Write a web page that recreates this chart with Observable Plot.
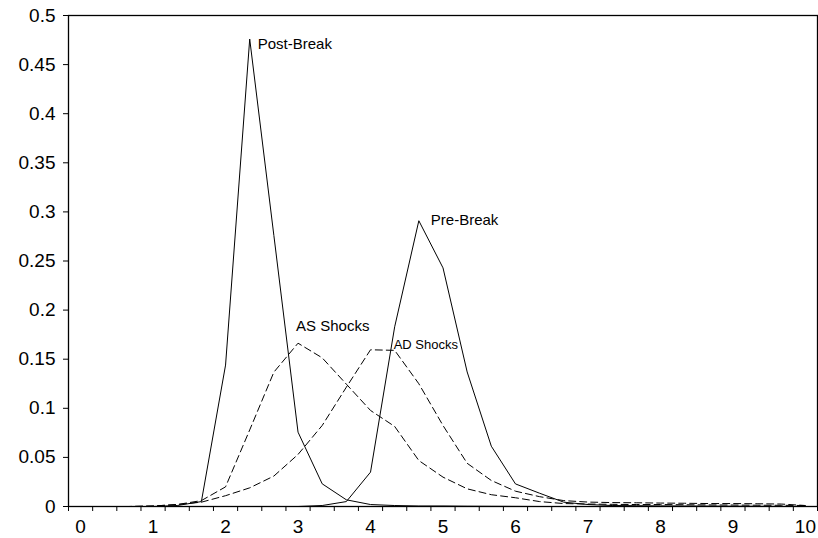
<!DOCTYPE html>
<html>
<head>
<meta charset="utf-8">
<script src="https://cdn.jsdelivr.net/npm/d3@7"></script>
<script src="https://cdn.jsdelivr.net/npm/@observablehq/plot@0.6"></script>
<style>
  html, body { margin: 0; padding: 0; background: #fff; }
  #chart svg { display: block; }
</style>
</head>
<body>
<div id="chart"></div>
<script>
// x categories: 0, 1/3, 2/3, ..., 10 (31 points)
const xLabels = [0, 1, 2, 3, 4, 5, 6, 7, 8, 9, 10];
const yTicks = [0, 0.05, 0.1, 0.15, 0.2, 0.25, 0.3, 0.35, 0.4, 0.45, 0.5];

const postBreak = [0, 0, 0, 0, 0.001, 0.005, 0.144, 0.476, 0.276, 0.0757,
  0.0231, 0.0068, 0.002, 0.001, 0.0005, 0.0005, 0.0003, 0.0002, 0.0001, 0,
  0, 0, 0, 0, 0, 0, 0, 0, 0, 0, 0];
const preBreak = [0, 0, 0, 0, 0, 0, 0, 0, 0, 0,
  0.001, 0.005, 0.035, 0.183, 0.291, 0.243, 0.137, 0.0614, 0.023, 0.0135,
  0.0044, 0.002, 0.001, 0.0008, 0.0006, 0.0005, 0.0004, 0.0003, 0.0002, 0.0001, 0];
const asShocks = [0, 0, 0, 0.0005, 0.002, 0.006, 0.02, 0.078, 0.1368, 0.1663,
  0.1514, 0.1246, 0.0978, 0.0815, 0.0468, 0.0299, 0.018, 0.012, 0.0089, 0.005,
  0.003, 0.0025, 0.0022, 0.002, 0.002, 0.0018, 0.0016, 0.0015, 0.0013, 0.0012, 0.001];
const adShocks = [0, 0, 0, 0.0005, 0.002, 0.0044, 0.011, 0.019, 0.031, 0.053,
  0.0825, 0.1215, 0.1596, 0.159, 0.125, 0.0825, 0.044, 0.0265, 0.0156, 0.01,
  0.006, 0.0045, 0.004, 0.0038, 0.0035, 0.0033, 0.003, 0.003, 0.0028, 0.0025, 0.001];

const seriesNames = ["Post-Break", "Pre-Break", "AS Shocks", "AD Shocks"];
const seriesValues = [postBreak, preBreak, asShocks, adShocks];
const dashed = {"Post-Break": false, "Pre-Break": false, "AS Shocks": true, "AD Shocks": true};

const rows = [];
seriesNames.forEach((name, s) => {
  seriesValues[s].forEach((v, i) => rows.push({series: name, i, value: v}));
});

// label anchors: each series' peak point
const labelOffsets = {
  "Post-Break": {dx: 8, dy: 5, size: 15},
  "Pre-Break": {dx: 12, dy: -1, size: 15},
  "AS Shocks": {dx: -2, dy: -17, size: 15},
  "AD Shocks": {dx: -1, dy: -6, size: 13}
};
const anchors = seriesNames.map((name, s) => {
  const vals = seriesValues[s];
  const i = name === "AD Shocks" ? d3.maxIndex(vals) + 1 : d3.maxIndex(vals);
  return {series: name, i, value: vals[i]};
});

const FONT = "'Liberation Sans', Arial, Helvetica, sans-serif";

const marks = [];
for (const name of seriesNames) {
  marks.push(Plot.line(rows.filter(d => d.series === name), {
    x: "i", y: "value", stroke: "black", strokeWidth: 1,
    strokeDasharray: dashed[name] ? "7,4" : null
  }));
}
for (const a of anchors) {
  const o = labelOffsets[a.series];
  marks.push(Plot.text([a], {
    x: "i", y: "value", text: "series", textAnchor: "start", lineAnchor: "middle",
    dx: o.dx, dy: o.dy, fontSize: o.size, fill: "black"
  }));
}

const chart = Plot.plot({
  width: 818,
  height: 538,
  marginLeft: 68,
  marginRight: 1,
  marginTop: 15,
  marginBottom: 32,
  style: {fontFamily: FONT, background: "white", color: "black"},
  x: {domain: [-0.5, 30.5], axis: null},
  y: {domain: [0, 0.5], axis: null},
  marks: [
    Plot.axisY({ticks: yTicks, tickSize: 5, tickPadding: 8, fontSize: 19, label: null,
      tickFormat: d => String(+d.toFixed(2))}),
    Plot.axisX({ticks: d3.range(-0.5, 31, 1), tickSize: 5, label: null, tickFormat: () => ""}),
    Plot.axisX({ticks: xLabels.map(v => v * 3), tickSize: 0, tickPadding: 13, fontSize: 19, label: null,
      tickFormat: i => String(xLabels[i / 3])}),
    ...marks,
    Plot.frame({stroke: "black", strokeWidth: 1.3})
  ]
});
document.getElementById("chart").appendChild(chart);
</script>
</body>
</html>
